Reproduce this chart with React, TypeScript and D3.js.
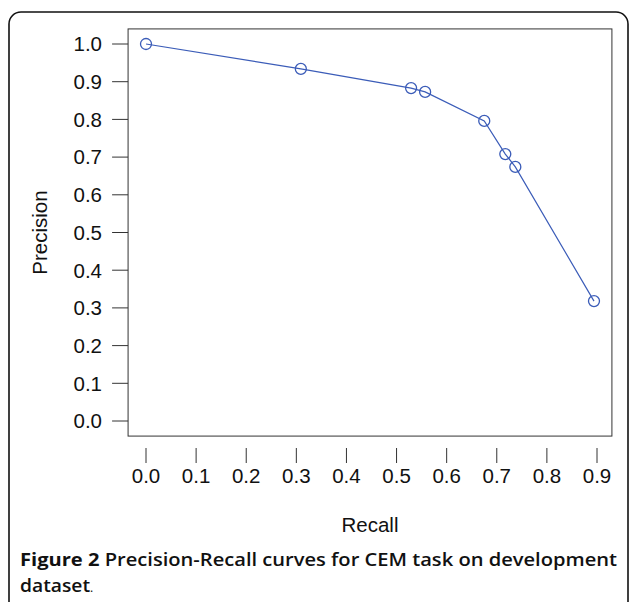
import React from "react";
import * as d3 from "d3";

const recall = [0.0, 0.309, 0.529, 0.557, 0.675, 0.717, 0.737, 0.894];
const precision = [1.0, 0.934, 0.883, 0.873, 0.796, 0.708, 0.674, 0.318];
const xTicks = [0, 0.1, 0.2, 0.3, 0.4, 0.5, 0.6, 0.7, 0.8, 0.9];
const yTicks = [0, 0.1, 0.2, 0.3, 0.4, 0.5, 0.6, 0.7, 0.8, 0.9, 1.0];
const xLabel = "Recall";
const yLabel = "Precision";
const captionBold = "Figure 2";
const captionLine1 = " Precision-Recall curves for CEM task on development";
const captionLine2 = "dataset";

export default function App() {
  const W = 629, H = 602;
  const x = d3.scaleLinear().domain([0, 0.9]).range([146, 597]);
  const y = d3.scaleLinear().domain([0, 1]).range([421, 44]);
  const xMax = d3.max(recall) as number;
  const pad = xMax * 0.04;
  const boxL = x(-pad), boxR = x(xMax + pad);
  const boxT = y(1.04), boxB = y(-0.04);
  const line = d3.line<number>().x((_, i) => x(recall[i])).y((d) => y(d));
  const col = "#3b5cb8";
  const font = "'Liberation Sans', Arial, sans-serif";
  const capFont = "'Open Sans', sans-serif";
  return (
    <svg width={W} height={H} style={{ position: "absolute", left: 0, top: 0, background: "#fff" }}>
      <rect x={9} y={12} width={619} height={640} rx={12} fill="none" stroke="#111" strokeWidth={1.6} />
      <rect x={boxL} y={boxT} width={boxR - boxL} height={boxB - boxT} fill="none" stroke="#333" strokeWidth={1} />
      {yTicks.map((t) => (
        <g key={"y" + t}>
          <line x1={boxL - 16} x2={boxL} y1={y(t)} y2={y(t)} stroke="#333" strokeWidth={1} />
          <text x={102} y={y(t)} dy="0.36em" textAnchor="end" fontFamily={font} fontSize={20.5} fill="#111">
            {t.toFixed(1)}
          </text>
        </g>
      ))}
      {xTicks.map((t) => (
        <g key={"x" + t}>
          <line x1={x(t)} x2={x(t)} y1={448} y2={463} stroke="#333" strokeWidth={1} />
          <text x={x(t)} y={483} textAnchor="middle" fontFamily={font} fontSize={20.5} fill="#111">
            {t.toFixed(1)}
          </text>
        </g>
      ))}
      <text x={(boxL + boxR) / 2} y={532} textAnchor="middle" fontFamily={font} fontSize={20.5} fill="#111">
        {xLabel}
      </text>
      <text transform={`translate(47,${(boxT + boxB) / 2}) rotate(-90)`} textAnchor="middle" fontFamily={font} fontSize={20.5} fill="#111">
        {yLabel}
      </text>
      <path d={line(precision) || ""} fill="none" stroke={col} strokeWidth={1.2} />
      {precision.map((p, i) => (
        <circle key={i} cx={x(recall[i])} cy={y(p)} r={5.5} fill="none" stroke={col} strokeWidth={1.3} />
      ))}
      <text x={20} y={566} fontFamily={capFont} fontSize={18} fill="#111" textLength={597} lengthAdjust="spacingAndGlyphs">
        <tspan fontWeight={700}>{captionBold}</tspan>
        <tspan fontWeight={600}>{captionLine1}</tspan>
      </text>
      <text x={20} y={592} fontFamily={capFont} fontSize={18} fill="#111">
        <tspan fontWeight={600} textLength={70} lengthAdjust="spacingAndGlyphs">{captionLine2}</tspan>
        <tspan fontSize={12}>.</tspan>
      </text>
    </svg>
  );
}
